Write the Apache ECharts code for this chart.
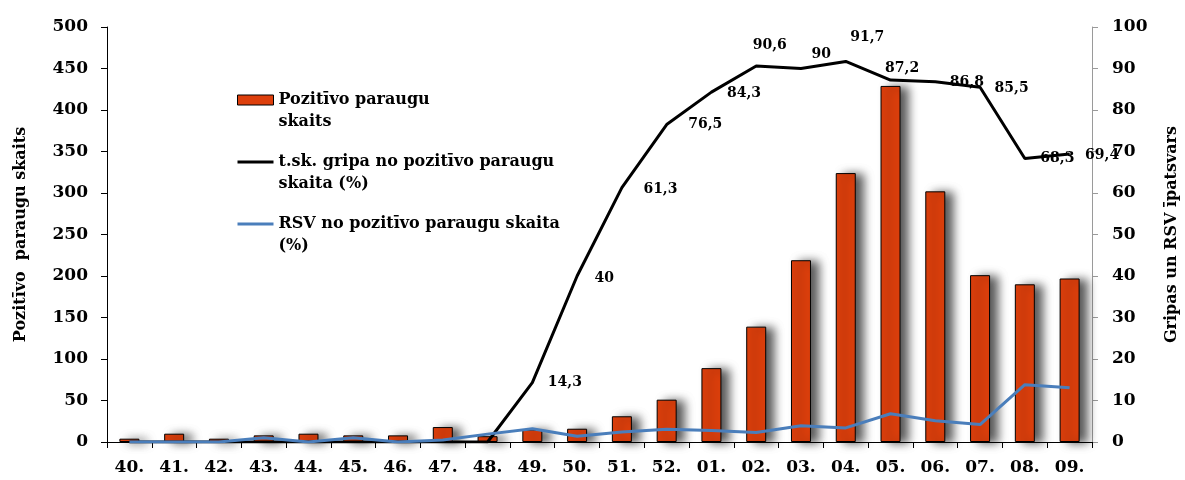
<!DOCTYPE html>
<html>
<head>
<meta charset="utf-8">
<script src="https://cdn.jsdelivr.net/npm/echarts@6/dist/echarts.min.js"></script>
<style>html,body{margin:0;padding:0;background:#fff;}#c{width:1185px;height:480px;}</style>
</head>
<body>
<div id="c"></div>
<script>
const weeks = ['40.','41.','42.','43.','44.','45.','46.','47.','48.','49.','50.','51.','52.','01.','02.','03.','04.','05.','06.','07.','08.','09.'];
const positives = [4,10,4,8,10,8,8,18,7,15,16,31,51,89,139,219,324,429,302,201,190,197];
const gripaPct = [0,0,0,0,0,0,0,0,0,14.3,40,61.3,76.5,84.3,90.6,90,91.7,87.2,86.8,85.5,68.3,69.4];
const rsvPct = [0,0,0,1.0,0,1.0,0,0.5,1.9,3.2,1.4,2.4,3.1,2.8,2.3,3.9,3.4,6.8,5.1,4.2,13.8,13.1];
const leftTicks = {min:0, max:500, step:50};
const rightTicks = {min:0, max:100, step:10};

const seriesNames = ['Pozitīvo paraugu skaits','t.sk. gripa no pozitīvo paraugu skaita (%)','RSV no pozitīvo paraugu skaita (%)'];
const legendLines = {
  'Pozitīvo paraugu skaits':'Pozitīvo paraugu\nskaits',
  't.sk. gripa no pozitīvo paraugu skaita (%)':'t.sk. gripa no pozitīvo paraugu\nskaita (%)',
  'RSV no pozitīvo paraugu skaita (%)':'RSV no pozitīvo paraugu skaita\n(%)'
};
const axisNames = ['Pozitīvo  paraugu skaits','Gripas un RSV īpatsvars'];

// label placement tweaks (style only)
const labelOffsets = {9:[1,0],10:[3,2],11:[7,2],12:[7,0],13:[1,1],14:[-18,-21],15:[-4,-14],16:[-10,-24],17:[-20,-12],18:[0,1],19:[0,1],20:[1,0],21:[1,1]};

const FONT = '"DejaVu Serif", "Liberation Serif", serif';
const chart = echarts.init(document.getElementById('c'));

const gripaData = gripaPct.map((v,i)=>({
  value:v,
  label:{show: v>0, offset: labelOffsets[i] || [0,0]}
}));

chart.setOption({
  animation:false,
  backgroundColor:'#fff',
  grid:{left:107,right:93,top:27,bottom:38,containLabel:false,outerBoundsMode:'none'},
  legend:{
    orient:'vertical', left:237, top:89, padding:0,
    itemWidth:36, itemHeight:32, itemGap:18,
    textStyle:{fontFamily:FONT,fontWeight:'bold',fontSize:16,lineHeight:22,color:'#000'},
    formatter:n=>legendLines[n],
    selectedMode:false,
    data:[
      {name:seriesNames[0], icon:'path://M0,0L36,0L36,10L0,10Z M36,32', itemStyle:{borderColor:'#000',borderWidth:1,shadowBlur:0,shadowOffsetX:0,shadowOffsetY:0,shadowColor:'transparent'}},
      {name:seriesNames[1], icon:'path://M0,0 M0,3.5L36,3.5L36,6.5L0,6.5Z M36,32', itemStyle:{borderWidth:0,color:'#000'}},
      {name:seriesNames[2], icon:'path://M0,0 M0,3.5L36,3.5L36,6.5L0,6.5Z M36,32', itemStyle:{borderWidth:0,color:'#4A7EBB'}}
    ]
  },
  xAxis:{
    type:'category', data:weeks, boundaryGap:true,
    axisLine:{lineStyle:{color:'#000',width:1}},
    axisTick:{show:true,length:6,lineStyle:{color:'#000'}},
    axisLabel:{fontFamily:FONT,fontWeight:'bold',fontSize:17,color:'#000',margin:17,interval:0}
  },
  yAxis:[
    {
      type:'value', min:leftTicks.min, max:leftTicks.max, interval:leftTicks.step,
      name:axisNames[0], nameLocation:'middle', nameGap:78,
      nameTextStyle:{fontFamily:FONT,fontWeight:'bold',fontSize:16,color:'#000'},
      axisLine:{show:true,lineStyle:{color:'#000',width:1}},
      axisTick:{show:true,length:6,lineStyle:{color:'#000'}},
      splitLine:{show:false},
      axisLabel:{fontFamily:FONT,fontWeight:'bold',fontSize:17,color:'#000',margin:19}
    },
    {
      type:'value', min:rightTicks.min, max:rightTicks.max, interval:rightTicks.step, position:'right',
      name:axisNames[1], nameLocation:'middle', nameGap:72,
      nameTextStyle:{fontFamily:FONT,fontWeight:'bold',fontSize:16,color:'#000'},
      axisLine:{show:true,lineStyle:{color:'#9a9a9a',width:1}},
      axisTick:{show:true,length:6,lineStyle:{color:'#9a9a9a'}},
      splitLine:{show:false},
      axisLabel:{fontFamily:FONT,fontWeight:'bold',fontSize:17,color:'#000',margin:20}
    }
  ],
  series:[
    {
      name:seriesNames[0], type:'bar', yAxisIndex:0, data:positives, barWidth:20,
      itemStyle:{color:'#DD3F0C',borderColor:'#000',borderWidth:1,shadowColor:'rgba(0,0,0,0.65)',shadowBlur:10,shadowOffsetX:8,shadowOffsetY:1},
      z:2
    },
    {
      name:seriesNames[1], type:'line', yAxisIndex:1, data:gripaData,
      symbol:'circle', symbolSize:1, showSymbol:true,
      lineStyle:{color:'#000',width:3}, itemStyle:{color:'#000'},
      label:{show:true,position:'right',distance:14,fontFamily:FONT,fontWeight:'bold',fontSize:14,color:'#000',
        formatter:p=>String(p.value).replace('.',',')},
      z:4
    },
    {
      name:seriesNames[2], type:'line', yAxisIndex:1, data:rsvPct,
      showSymbol:false, symbol:'none',
      lineStyle:{color:'#4A7EBB',width:3}, itemStyle:{color:'#4A7EBB'},
      z:5
    }
  ]
});
</script>
</body>
</html>
